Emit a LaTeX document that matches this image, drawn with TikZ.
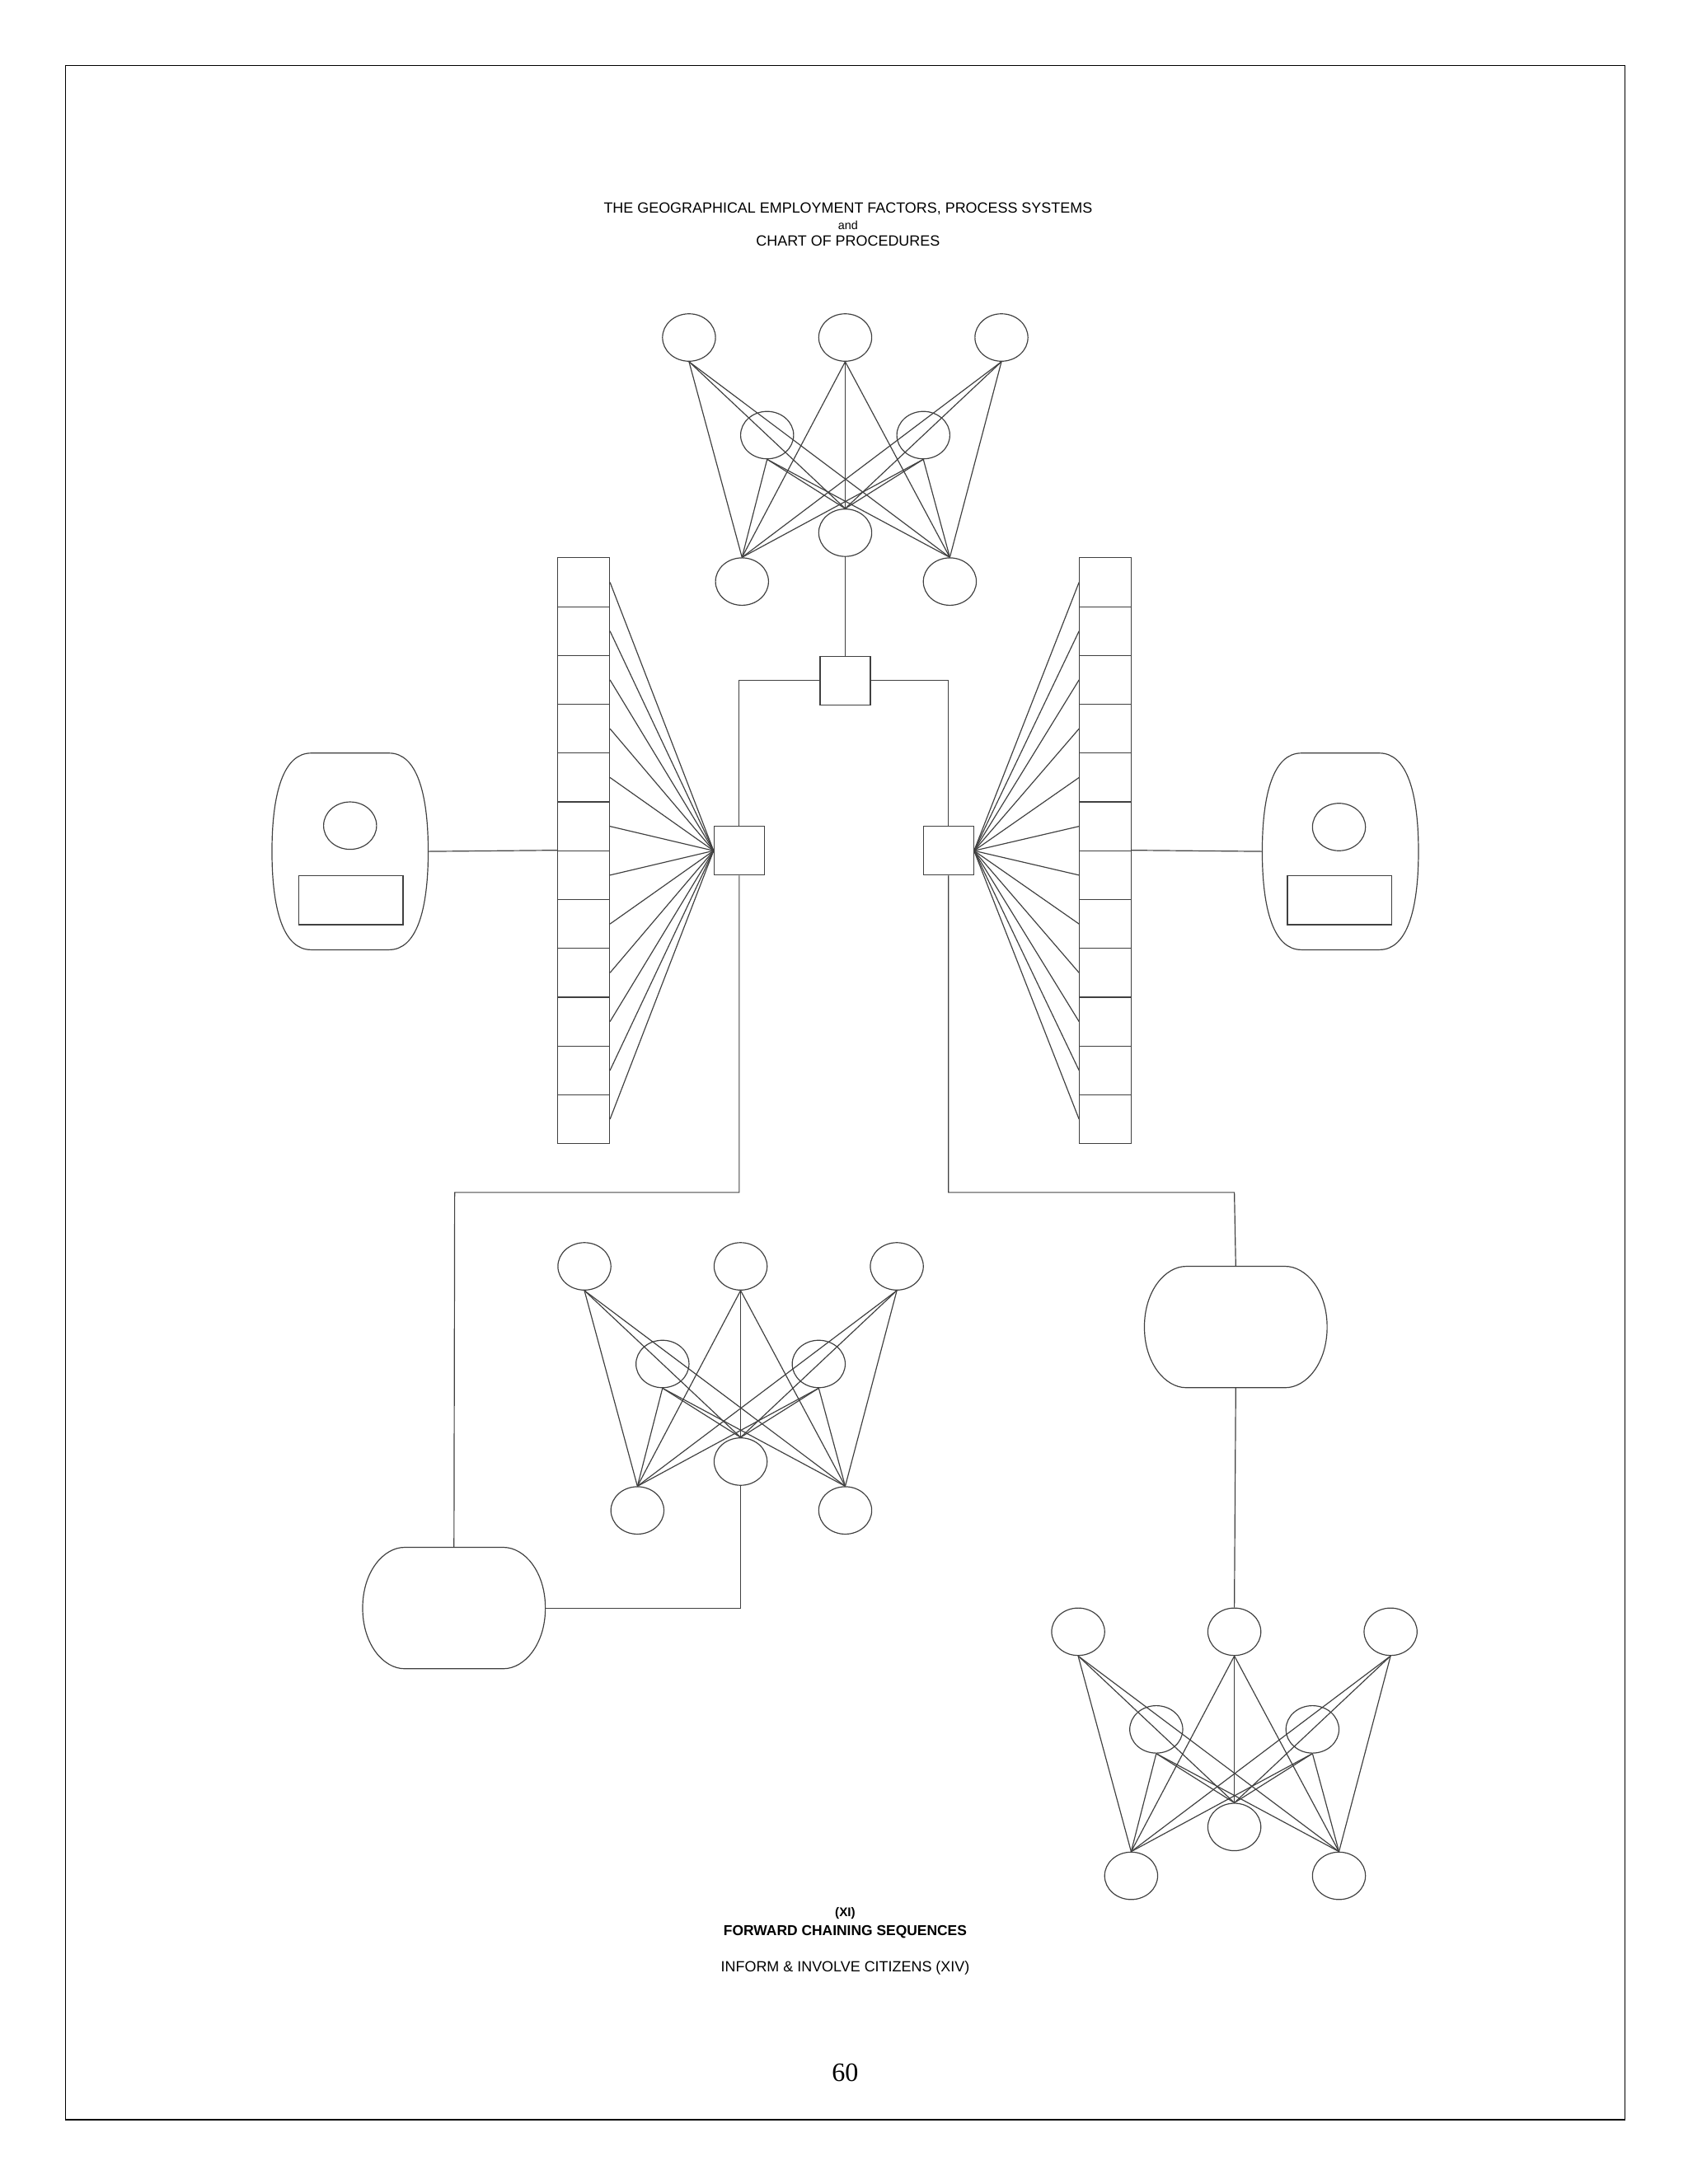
\documentclass[tikz,border=0pt]{standalone}
\usepackage{fontspec}
\setmainfont{Liberation Sans}
\newfontfamily\serifnum{Liberation Serif}
\usetikzlibrary{shapes.geometric}
\tikzset{
 ln/.style={draw=black!75,line width=0.7pt},
 ell/.style={ellipse,ln,minimum width=38pt,minimum height=34pt,inner sep=0pt},
 sq/.style={rectangle,ln,minimum width=36pt,minimum height=35pt,inner sep=0pt},
 cell/.style={rectangle,ln,minimum width=37pt,minimum height=35pt,inner sep=0pt},
 txt/.style={font=\fontsize{10.6}{12}\selectfont,inner sep=0pt}
}
\newcommand{\net}[3]{%
 \node[ell] (#1t1) at (#2-112,#3) {};
 \node[ell] (#1t2) at (#2,#3) {};
 \node[ell] (#1t3) at (#2+112,#3) {};
 \node[ell] (#1m1) at (#2-56,#3+70) {};
 \node[ell] (#1m2) at (#2+56,#3+70) {};
 \node[ell] (#1c) at (#2,#3+140) {};
 \node[ell] (#1b1) at (#2-74,#3+175) {};
 \node[ell] (#1b2) at (#2+75,#3+175) {};
 \foreach \s in {t1,t2,t3,m1,m2}{
  \foreach \d in {b1,c,b2}{ \draw[ln] (#1\s.south) -- (#1\d.north); }
 }
}
% barrel: name, cx, cy, halfwidth, halfheight, inset, ctrl factor
\newcommand{\barrel}[7]{%
 \node[rectangle,inner sep=0pt,minimum width=2*#4 pt,minimum height=2*#5 pt] (#1) at (#2,#3) {};
 \draw[ln] (#2-#4+#6,#3-#5) -- (#2+#4-#6,#3-#5)
   .. controls (#2+#4-#7*#6,#3-#5) and (#2+#4,#3-0.6*#5) .. (#2+#4,#3)
   .. controls (#2+#4,#3+0.6*#5) and (#2+#4-#7*#6,#3+#5) .. (#2+#4-#6,#3+#5)
   -- (#2-#4+#6,#3+#5)
   .. controls (#2-#4+#7*#6,#3+#5) and (#2-#4,#3+0.6*#5) .. (#2-#4,#3)
   .. controls (#2-#4,#3-0.6*#5) and (#2-#4+#7*#6,#3-#5) .. cycle;
}
\begin{document}
\begin{tikzpicture}[x=1pt,y=-1pt]
\useasboundingbox (0,0) rectangle (1210,1566);
\draw[black,line width=0.9pt] (47,47) rectangle (1165,1520);
\node[txt] (ti1) at (608,150) {THE GEOGRAPHICAL EMPLOYMENT FACTORS, PROCESS SYSTEMS};
\node[txt,font=\fontsize{8.5}{9}\selectfont] (ti2) at (608,161.5) {and};
\node[txt] (ti3) at (608,173) {CHART OF PROCEDURES};

\net{A}{606}{242}
\net{B}{531}{908}
\net{C}{885}{1170}

\node[sq] (sT) at (606,488) {};
\node[sq] (sL) at (530,610) {};
\node[sq] (sR) at (680,610) {};
\draw[ln] (Ac.south) -- (sT.north);
\draw[ln] (sT.west) -| (sL.north);
\draw[ln] (sT.east) -| (sR.north);

\foreach \i in {1,...,12}{
 \node[cell] (L\i) at (418.5,400+35*\i-17.5) {};
 \node[cell] (R\i) at (792.5,400+35*\i-17.5) {};
 \draw[ln] (L\i.east) -- (sL.west);
 \draw[ln] (R\i.west) -- (sR.east);
}

\barrel{dL}{251}{610.5}{56}{70.5}{28}{0.3}
\node[ell] (dLc) at (251,592) {};
\node[rectangle,ln,minimum width=75pt,minimum height=35pt,inner sep=0pt] (dLr) at (251.5,645.5) {};
\barrel{dR}{961}{610.5}{56}{70.5}{28}{0.3}
\node[ell] (dRc) at (960,593) {};
\node[rectangle,ln,minimum width=75pt,minimum height=35pt,inner sep=0pt] (dRr) at (960.5,645.5) {};
\draw[ln] (dL.east) -- (L7.north west);
\draw[ln] (dR.west) -- (R7.north east);

\barrel{bL}{325.5}{1153}{65.5}{43.5}{30}{0.5}
\barrel{bR}{886}{951.5}{65.5}{43.5}{30}{0.5}
\coordinate (jL) at (326,855);
\coordinate (jR) at (885,855);
\draw[ln] (sL.south) |- (jL) -- (bL.north);
\draw[ln] (sR.south) |- (jR) -- (bR.north);
\draw[ln] (Bc.south) |- (bL.east);
\draw[ln] (bR.south) -- (Ct2.north);

\node[txt,font=\bfseries\fontsize{9}{10}\selectfont] (f1) at (606,1372) {(XI)};
\node[txt,font=\bfseries\fontsize{10.3}{11}\selectfont] (f2) at (606,1385) {FORWARD CHAINING SEQUENCES};
\node[txt] (f3) at (606,1411) {INFORM \& INVOLVE CITIZENS (XIV)};
\node[inner sep=0pt,font=\serifnum\fontsize{19}{21}\selectfont] (pg) at (606,1486) {60};
\end{tikzpicture}
\end{document}
